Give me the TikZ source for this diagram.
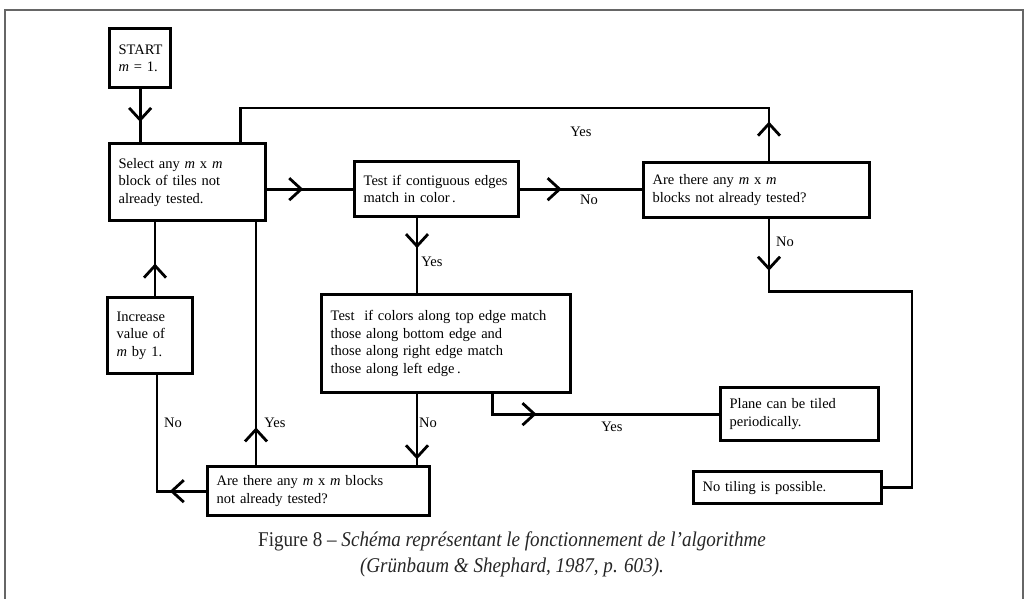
\documentclass[tikz,border=0pt]{standalone}
\usepackage{fontspec}
\setmainfont{Liberation Serif}
\newfontfamily\capfont[FakeStretch=0.91]{Liberation Serif}
\usetikzlibrary{arrows.meta,calc,decorations.markings}

\begin{document}
\begin{tikzpicture}[x=1pt,y=-1pt,
    font=\fontsize{14.5}{17.5}\selectfont,
    flowbox/.style={draw,line width=3.3pt,anchor=north west,align=left,
      inner xsep=9pt,inner ysep=0pt},
    flowline/.style={line width=2.8pt},
    midarrow/.style={postaction={decorate,decoration={markings,
      mark=at position #1 with {\arrow{Straight Barb[length=12pt,width=22pt]}}}}},
    lbl/.style={inner sep=0pt}]
  \useasboundingbox (0,0) rectangle (1025,599);
  \draw[line width=1.3pt,black!60] (5,599) -- (5,10) -- (1023,10) -- (1023,599);

  % boxes
  \node[flowbox,text width=43pt,minimum height=59pt] (start) at (108,27)
    {START\\\textit{m} = 1.};
  \node[flowbox,text width=138pt,minimum height=77pt] (select) at (108,142)
    {Select any \textit{m} x \textit{m}\\block of tiles not\\already tested.};
  \node[flowbox,text width=146pt,minimum height=55pt] (test1) at (353,160)
    {Test if contiguous edges\\match in color\,.};
  \node[flowbox,text width=208pt,minimum height=55pt] (more1) at (642,161)
    {Are there any \textit{m} x \textit{m}\\blocks not already tested?};
  \node[flowbox,text width=231pt,minimum height=98pt] (test2) at (320,293)
    {Test\ \ if colors along top edge match\\those along bottom edge and\\those along right edge match\\those along left edge\,.};
  \node[flowbox,text width=140pt,minimum height=53pt] (plane) at (719,386)
    {Plane can be tiled\\periodically.};
  \node[flowbox,text width=170pt,minimum height=32pt] (notile) at (692,470)
    {No tiling is possible.};
  \node[flowbox,text width=67pt,minimum height=76pt] (incr) at (106,296)
    {Increase\\value of\\\textit{m} by 1.};
  \node[flowbox,text width=204pt,minimum height=49pt] (more2) at (206,465)
    {Are there any \textit{m} x \textit{m} blocks\\not already tested?};

  % connectors
  \draw[flowline,midarrow=0.62] (start.south) -- (start.south |- select.north);
  \draw[flowline,midarrow=0.42] (test1.west -| select.east) -- (test1.west);
  \draw[flowline,midarrow=0.34] (test1.east) -- (test1.east -| more1.west);
  \draw[flowline,midarrow=0.064] ($(more1.north west)+(127,0)$) -- ++(0,-53)
    -| ($(select.north east)+(-27,0)$);
  \draw[flowline,midarrow=0.117] ($(more1.south west)+(127,0)$) -- ++(0,72)
    -- ++(143,0) |- (notile.east);
  \draw[flowline,midarrow=0.4] ($(test1.south west)+(64,0)$) coordinate (t1s)
    -- (t1s |- test2.north);
  \draw[flowline,midarrow=0.92] ($(test2.south west)+(97,0)$) coordinate (t2s)
    -- (t2s |- more2.north);
  \draw[flowline,midarrow=0.26] ($(test2.south east)+(-80,0)$) |- (plane.west);
  \draw[flowline,midarrow=0.22] (more2.west) -| ($(incr.south west)+(51,0)$);
  \draw[flowline,midarrow=0.44] ($(incr.north west)+(49,0)$) coordinate (ins)
    -- (ins |- select.south);
  \draw[flowline,midarrow=0.155] ($(more2.north west)+(50,0)$) coordinate (m2n)
    -- (m2n |- select.south);

  % labels
  \node[lbl] (yes1) at (581,132) {Yes};
  \node[lbl] (no1) at (589,200) {No};
  \node[lbl] (no2) at (785,242) {No};
  \node[lbl] (yes2) at (432,262) {Yes};
  \node[lbl] (no3) at (428,423) {No};
  \node[lbl] (yes3) at (612,427) {Yes};
  \node[lbl] (no4) at (173,423) {No};
  \node[lbl] (yes4) at (275,423) {Yes};

  % caption
  \node[font=\capfont\fontsize{21}{26}\selectfont,align=center,text=black!85] (caption)
    at (512,554) {Figure 8 – \textit{Schéma représentant le fonctionnement de l’algorithme}\\
    \textit{(Grünbaum \& Shephard, 1987, p. 603).}};
\end{tikzpicture}
\end{document}
